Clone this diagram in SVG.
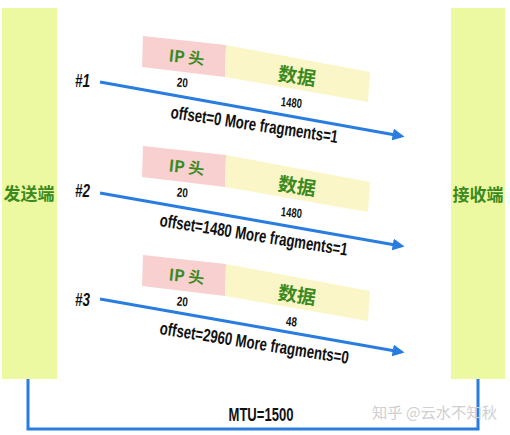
<svg xmlns="http://www.w3.org/2000/svg" width="510" height="435" viewBox="0 0 510 435">
<defs>
<style>
.bar{fill:#edf9a0}
.pink{fill:#f8d0d0}
.yel{fill:#faf6c8}
.cn{font-family:"Noto Sans CJK SC","Noto Sans",sans-serif;font-weight:700;fill:#3a8a20}
.num{font-family:"Liberation Sans",Arial,sans-serif;font-weight:700;fill:#111}
.lab{font-family:"Liberation Sans",Arial,sans-serif;font-weight:700;font-style:italic;fill:#111}
.wire{fill:none;stroke:#2a7de0;stroke-width:3}
.wm{font-family:"Noto Sans CJK SC","Noto Sans",sans-serif;fill:#cfcfcf}
</style>
<marker id="ah" viewBox="0 0 10 10" refX="7" refY="5" markerWidth="12" markerHeight="12" markerUnits="userSpaceOnUse" orient="auto">
<path d="M0,0 L10,5 L0,10 z" fill="#2a7de0"/>
</marker>
</defs>
<rect width="510" height="435" fill="#fff"/>

<g id="sender">
<rect class="bar" x="2" y="8" width="55" height="371"/>
<text class="cn" x="29" y="200" font-size="17" text-anchor="middle">发送端</text>
</g>
<g id="receiver">
<rect class="bar" x="451" y="8" width="54" height="371"/>
<text class="cn" x="478" y="201" font-size="17" text-anchor="middle">接收端</text>
</g>

<g id="packet1">
<polygon class="pink" points="143,36 226,45 225,77 142,67"/>
<polygon class="yel" points="226,45 370,72 368,102 225,77"/>
<text class="cn" font-size="16" text-anchor="middle" transform="translate(186,63) rotate(6)">IP 头</text>
<text class="cn" font-size="19" text-anchor="middle" transform="translate(296,83) rotate(8)">数据</text>
<text class="num" font-size="13" text-anchor="middle" textLength="11" lengthAdjust="spacingAndGlyphs" transform="translate(182,87) rotate(5)">20</text>
<text class="num" font-size="13" text-anchor="middle" textLength="21" lengthAdjust="spacingAndGlyphs" transform="translate(291,107) rotate(6)">1480</text>
<text class="lab" x="75" y="87" font-size="18" textLength="15" lengthAdjust="spacingAndGlyphs">#1</text>
</g>

<g id="packet2" transform="translate(0,110)">
<polygon class="pink" points="143,36 226,45 225,77 142,67"/>
<polygon class="yel" points="226,45 370,72 368,102 225,77"/>
<text class="cn" font-size="16" text-anchor="middle" transform="translate(186,63) rotate(6)">IP 头</text>
<text class="cn" font-size="19" text-anchor="middle" transform="translate(296,83) rotate(8)">数据</text>
<text class="num" font-size="13" text-anchor="middle" textLength="11" lengthAdjust="spacingAndGlyphs" transform="translate(182,87) rotate(5)">20</text>
<text class="num" font-size="13" text-anchor="middle" textLength="21" lengthAdjust="spacingAndGlyphs" transform="translate(291,107) rotate(6)">1480</text>
<text class="lab" x="75" y="87" font-size="18" textLength="15" lengthAdjust="spacingAndGlyphs">#2</text>
</g>

<g id="packet3" transform="translate(0,219)">
<polygon class="pink" points="143,36 226,45 225,77 142,67"/>
<polygon class="yel" points="226,45 370,72 368,102 225,77"/>
<text class="cn" font-size="16" text-anchor="middle" transform="translate(186,63) rotate(6)">IP 头</text>
<text class="cn" font-size="19" text-anchor="middle" transform="translate(296,83) rotate(8)">数据</text>
<text class="num" font-size="13" text-anchor="middle" textLength="11" lengthAdjust="spacingAndGlyphs" transform="translate(182,87) rotate(5)">20</text>
<text class="num" font-size="13" text-anchor="middle" textLength="11" lengthAdjust="spacingAndGlyphs" transform="translate(291,107) rotate(6)">48</text>
<text class="lab" x="75" y="87" font-size="18" textLength="15" lengthAdjust="spacingAndGlyphs">#3</text>
</g>

<g id="connectors">
<line class="wire" x1="100" y1="82" x2="401" y2="136" marker-end="url(#ah)"/>
<line class="wire" x1="100" y1="193" x2="401" y2="246" marker-end="url(#ah)"/>
<line class="wire" x1="100" y1="299" x2="401" y2="352" marker-end="url(#ah)"/>
<polyline class="wire" points="28,379 28,429 478,429 478,379"/>
<text class="num" font-size="18" textLength="169" lengthAdjust="spacingAndGlyphs" transform="translate(170,118) rotate(8.5)">offset=0 More fragments=1</text>
<text class="num" font-size="18" textLength="190" lengthAdjust="spacingAndGlyphs" transform="translate(159,226) rotate(9)">offset=1480 More fragments=1</text>
<text class="num" font-size="18" textLength="191" lengthAdjust="spacingAndGlyphs" transform="translate(159,334) rotate(9)">offset=2960 More fragments=0</text>
<text class="num" x="261" y="421" font-size="19" text-anchor="middle" textLength="65" lengthAdjust="spacingAndGlyphs">MTU=1500</text>
</g>

<text class="wm" x="372" y="418" font-size="15" textLength="125" lengthAdjust="spacingAndGlyphs">知乎 @云水不知秋</text>
</svg>
